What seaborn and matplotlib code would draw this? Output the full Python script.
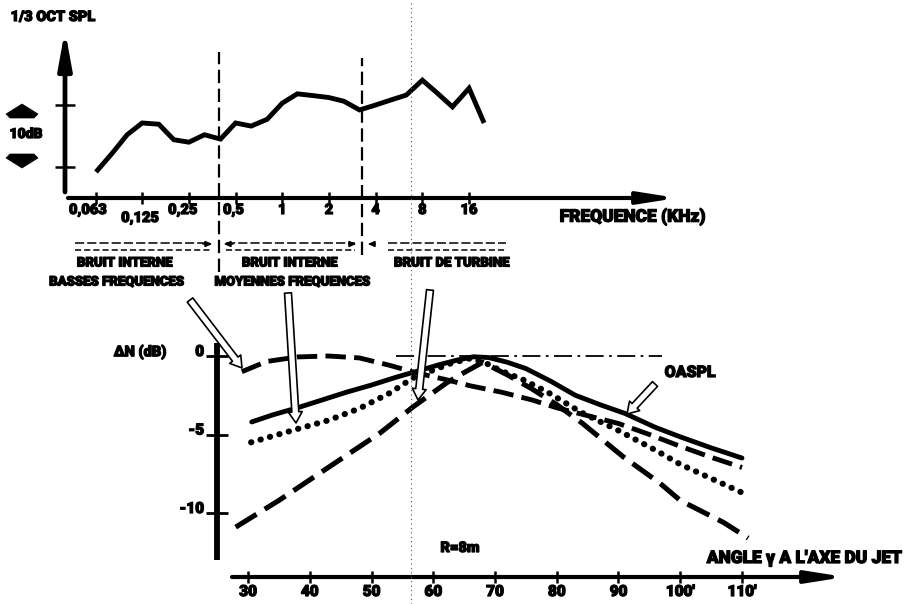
import matplotlib
matplotlib.use("Agg")
import matplotlib.pyplot as plt
import matplotlib.transforms as mtransforms
import matplotlib.patheffects as pe
from matplotlib.patches import FancyArrowPatch, Polygon
from matplotlib.lines import Line2D
import seaborn as sns
import pandas as pd

# ---------------- data ----------------
# top panel: 1/3-octave spectrum (relative dB, 0 = lower tick, 10 = upper tick)
spec_freq_khz = [0.063, 0.08, 0.1, 0.125, 0.16, 0.2, 0.25, 0.315, 0.4, 0.5, 0.63, 0.8,
                 1, 1.25, 1.6, 2, 2.5, 3.15, 4, 5, 6.3, 8, 10, 12.5, 16, 20]
spec_db = [-0.8, 2.2, 5.2, 7.1, 6.9, 4.4, 4.0, 5.2, 4.5, 7.1, 6.6, 7.7,
           10.3, 11.8, 11.5, 11.2, 10.6, 9.2, 10.0, 10.8, 11.6, 14.0, 11.9, 9.7, 12.7, 7.1]
freq_ticks = [0.063, 0.125, 0.25, 0.5, 1, 2, 4, 8, 16]
freq_tick_labels = ["0,063", "0,125", "0,25", "0,5", "1", "2", "4", "8", "16"]
band_limits_khz = [0.39, 3.25]
band_names = [("BRUIT INTERNE", "BASSES FREQUENCES"),
              ("BRUIT INTERNE", "MOYENNES FREQUENCES"),
              ("BRUIT DE TURBINE", "")]

# bottom panel: directivity, delta N (dB) vs angle to jet axis (deg)
bf_angle = [29, 33, 38, 43, 48, 53, 57, 62, 66, 71, 76, 80, 85, 90, 95, 100, 105, 110]
bf_db = [-1.0, -0.35, -0.06, 0.0, -0.12, -0.6, -1.05, -1.5, -1.9, -2.3, -2.8, -3.3,
         -3.8, -4.3, -5.0, -5.75, -6.45, -7.1]

oaspl_angle = [30.6, 34, 38, 42, 46, 50, 54, 58, 61, 64, 66.5, 69, 72, 75, 79, 83, 87,
               91, 96, 100, 105, 110]
oaspl_db = [-4.2, -3.75, -3.3, -2.8, -2.3, -1.85, -1.35, -0.9, -0.55, -0.25, -0.05, -0.1,
            -0.4, -0.8, -1.6, -2.5, -3.1, -3.65, -4.55, -5.15, -5.85, -6.5]

mf_angle = [30.5, 34, 38, 43, 48, 53, 56.7, 60, 63, 66, 68.5, 71, 74.5, 78.5, 84, 90,
            96, 100, 105, 110]
mf_db = [-5.5, -5.1, -4.65, -4.1, -3.35, -2.35, -1.4, -0.9, -0.45, -0.15, -0.45, -0.95,
         -1.5, -2.3, -3.6, -4.75, -6.0, -6.9, -7.8, -8.7]

turb_angle = [28, 35, 43, 51.4, 56.7, 62.2, 64.8, 68, 72, 76, 80, 84.2, 90.7, 96.7,
              100, 103, 107, 111]
turb_db = [-10.9, -9.2, -7.1, -4.9, -3.25, -1.7, -1.1, -0.4, -1.2, -2.1, -3.1, -4.3,
           -6.4, -8.1, -9.2, -9.8, -10.6, -11.6]

ref_angle = [54, 97]
ref_db = [0, 0]

angle_ticks = [30, 40, 50, 60, 70, 80, 90, 100, 110]
angle_tick_labels = ["30", "40", "50", "60", "70", "80", "90", "100'", "110'"]
dn_ticks = [0, -5, -10]
dn_tick_labels = ["0", "-5", "-10"]

# ---------------- figure ----------------
sns.set_theme(style="white")
plt.rcParams["font.family"] = ["Roboto", "DejaVu Sans"]
W, H = 917, 604
fig = plt.figure(figsize=(W / 100, H / 100), dpi=100)
fig.patch.set_facecolor("white")
FONT = dict(fontweight="black", color="black",
            path_effects=[pe.withStroke(linewidth=0.9, foreground="black")])


def P(x, y):
    return (x / W, 1 - y / H)


def ftext(x, y, s, size, ha="center", va="center", **kw):
    fig.text(*P(x, y), s, fontsize=size, ha=ha, va=va, **FONT, **kw)


# ===== top panel =====
TL, TR, TT, TB = 65, 677, 30, 198
ax1 = fig.add_axes([TL / W, 1 - TB / H, (TR - TL) / W, (TB - TT) / H])
ax1.set_xscale("log", base=2)
PX_OCT = 46.7
ax1.set_xlim(0.063 * 2 ** ((TL - 96) / PX_OCT), 0.063 * 2 ** ((TR - 96) / PX_OCT))
ax1.set_ylim((167 - TB) / 6.2, (167 - TT) / 6.2)
ax1.set_frame_on(False)
ax1.patch.set_alpha(0)

sns.lineplot(x=spec_freq_khz, y=spec_db, ax=ax1, color="black", lw=3.5,
             solid_joinstyle="miter", solid_capstyle="butt")

ax1.set_xticks(freq_ticks)
ax1.xaxis.set_minor_locator(matplotlib.ticker.NullLocator())
ax1.set_xticklabels([])
ax1.set_yticks([0, 10])
ax1.set_yticklabels([])
ax1.tick_params(axis="x", direction="inout", length=8, width=1.8, bottom=True, colors="black")
ax1.tick_params(axis="y", direction="inout", length=14, width=1.8, left=True, colors="black")
ax1.set_xlabel("")
ax1.set_ylabel("")

# axis lines with arrows
ax1.annotate("", xy=(0, 1), xytext=(0, (TB - 192) / (TB - TT)), xycoords="axes fraction",
             arrowprops=dict(arrowstyle="-|>,head_length=2.2,head_width=0.4", lw=3.4,
                             color="black", shrinkA=0, shrinkB=0, mutation_scale=10))
ax1.annotate("", xy=(1, 0), xytext=((68 - TL) / (TR - TL), 0), xycoords="axes fraction",
             arrowprops=dict(arrowstyle="-|>,head_length=2.2,head_width=0.35", lw=3.0,
                             color="black", shrinkA=0, shrinkB=0, mutation_scale=10))

# band dividers
for f, ytop, ybot in zip(band_limits_khz, [52, 58], [272, 255]):
    ax1.axvline(f, ymin=(TB - ybot) / (TB - TT), ymax=(TB - ytop) / (TB - TT), color="black",
                lw=1.6, ls=(0, (6, 2.5)), clip_on=False)

# x tick labels
xt = mtransforms.blended_transform_factory(ax1.transData, ax1.transAxes)
offsets = {"0,063": (-8, 0), "0,125": (-2, -8), "0,25": (-6, 0), "0,5": (-2, 0)}
for f, lab in zip(freq_ticks, freq_tick_labels):
    dx, dy = offsets.get(lab, (0, 0))
    ax1.annotate(lab, xy=(f, 0), xycoords=xt, xytext=(dx, -12 + dy),
                 textcoords="offset pixels", ha="center", va="center", fontsize=10.5,
                 annotation_clip=False, **FONT)

ftext(633, 217, "FREQUENCE (KHz)", 12.5)
ftext(53, 17, "1/3 OCT SPL", 10.5)
ftext(26, 134, "10dB", 10)
# fat arrows of the 10 dB scale
for pts in ([(22, 104), (38, 114), (34, 118), (10, 118), (6, 114)],
            [(22, 168), (38, 158), (34, 154), (10, 154), (6, 158)]):
    fig.add_artist(Polygon([P(*p) for p in pts], closed=True, fc="black", ec="black",
                           lw=0.5, transform=fig.transFigure))

# band annotation lines
def fline(x0, x1, y, ls="-", lw=1.0):
    fig.add_artist(Line2D([x0 / W, x1 / W], [1 - y / H, 1 - y / H], color="black", lw=lw,
                          ls=ls, transform=fig.transFigure))


def farrow(x0, x1, y):
    fig.add_artist(FancyArrowPatch(P(x0, y), P(x1, y), transform=fig.transFigure,
                                   arrowstyle="-|>,head_length=4,head_width=1.8",
                                   mutation_scale=1, lw=1.0, color="black"))


for x0, x1 in [(75, 210), (226, 355), (388, 506)]:
    fline(x0, x1, 243, ls=(0, (6, 2)), lw=1.1)
    fline(x0, x1, 250, ls=(0, (4, 2)), lw=1.1)
farrow(200, 215, 244)
farrow(236, 221, 244)
farrow(346, 359, 244)
farrow(378, 365, 244)

ftext(125, 263, band_names[0][0], 9.5)
ftext(117, 282, band_names[0][1], 9.5)
ftext(290, 263, band_names[1][0], 9.5)
ftext(293, 282, band_names[1][1], 9.5)
ftext(452, 263, band_names[2][0], 9.5)

# ===== bottom panel =====
BL, BR, BT, BB = 217, 845, 343, 577
ax2 = fig.add_axes([BL / W, 1 - BB / H, (BR - BL) / W, (BB - BT) / H])
PX_DEG = 6.175
PX_DB = 15.7
ax2.set_xlim(30 - (248 - BL) / PX_DEG, 30 + (BR - 248) / PX_DEG)
ax2.set_ylim(-(BB - 356) / PX_DB, (356 - BT) / PX_DB)
ax2.set_frame_on(False)
ax2.patch.set_alpha(0)

lw_c = 3.5
sns.lineplot(x=ref_angle, y=ref_db, ax=ax2, color="black", lw=1.3,
             linestyle=(0, (10, 3, 1.5, 3)))
sns.lineplot(x=bf_angle, y=bf_db, ax=ax2, color="black", lw=lw_c,
             linestyle=(0, (4.2, 1.7)))
sns.lineplot(x=oaspl_angle, y=oaspl_db, ax=ax2, color="black", lw=lw_c)
sns.lineplot(x=mf_angle, y=mf_db, ax=ax2, color="black", lw=4.4,
             linestyle=(0, (0.05, 1.55)), dash_capstyle="round")
sns.lineplot(x=turb_angle, y=turb_db, ax=ax2, color="black", lw=lw_c * 1.05,
             linestyle=(0, (4.8, 1.9)))

ax2.set_xticks(angle_ticks)
ax2.set_xticklabels([])
ax2.set_yticks(dn_ticks)
ax2.set_yticklabels([])
ax2.tick_params(axis="x", direction="inout", length=8, width=1.8, bottom=True, colors="black")
ax2.tick_params(axis="y", direction="inout", length=16, width=2.0, left=True, colors="black")
ax2.set_xlabel("")
ax2.set_ylabel("")

ax2.plot([0, 0], [(BB - 560) / (BB - BT), 1], transform=ax2.transAxes, color="black",
         lw=4.2, clip_on=False, solid_capstyle="butt")
ax2.annotate("", xy=(1, 0), xytext=((232 - BL) / (BR - BL), 0), xycoords="axes fraction",
             arrowprops=dict(arrowstyle="-|>,head_length=2.2,head_width=0.35", lw=3.0,
                             color="black", shrinkA=0, shrinkB=0, mutation_scale=10))

xt2 = mtransforms.blended_transform_factory(ax2.transData, ax2.transAxes)
for a, lab in zip(angle_ticks, angle_tick_labels):
    ax2.annotate(lab, xy=(a, 0), xycoords=xt2, xytext=(0, -15), textcoords="offset pixels",
                 ha="center", va="center", fontsize=11, annotation_clip=False, **FONT)
yt2 = mtransforms.blended_transform_factory(ax2.transAxes, ax2.transData)
for v, lab in zip(dn_ticks, dn_tick_labels):
    ax2.annotate(lab, xy=(0, v), xycoords=yt2, xytext=(-13, 4), textcoords="offset pixels",
                 ha="right", va="center", fontsize=11, annotation_clip=False, **FONT)

ftext(140, 352, "ΔN (dB)", 10.5)
ftext(460, 548, "R=8m", 10.5)
ftext(805, 558, "ANGLE γ A L'AXE DU JET", 12.5)
ftext(690, 372, "OASPL", 11.5)

# hollow pointer arrows
for (x0, y0), (x1, y1) in [((190, 300), (242, 368)), ((288, 293), (296, 423)),
                           ((430, 290), (418, 400)), ((655, 384), (627, 414))]:
    fig.add_artist(FancyArrowPatch(P(x0, y0), P(x1, y1), transform=fig.transFigure,
                                   arrowstyle="simple,head_length=8,head_width=10,tail_width=5",
                                   mutation_scale=1, fc="white", ec="black", lw=1.2,
                                   shrinkA=0, shrinkB=0))

# faint fold line of the scanned page
fig.add_artist(Line2D([411 / W, 411 / W], [0, 1], color="#555555", lw=0.8,
                      ls=(0, (1, 3)), transform=fig.transFigure))

fig.savefig("out.png", dpi=100, facecolor="white")
